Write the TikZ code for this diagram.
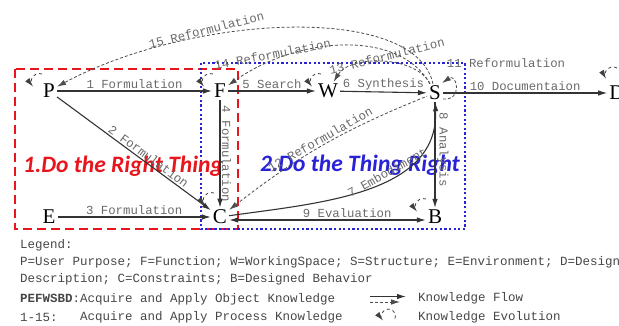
\documentclass[tikz,border=0pt]{standalone}
\usepackage{fontspec}
\setmainfont{Liberation Serif}
\newfontfamily\labelfont{Liberation Mono}
\newfontfamily\headfont{Carlito}
\usetikzlibrary{arrows.meta,positioning}
\definecolor{dored}{RGB}{232,22,28}
\definecolor{doblue}{RGB}{40,36,214}
\definecolor{lblgray}{RGB}{105,105,105}
\definecolor{leggray}{RGB}{70,70,70}

\begin{document}
\begin{tikzpicture}[>={Latex[length=9pt,width=5.5pt]}, x=1pt, y=1pt, on grid,
  obj/.style={font=\fontsize{21}{21}\selectfont, inner sep=2pt},
  lbl/.style={font=\labelfont\fontsize{12.3}{13}\selectfont, text=lblgray, inner sep=1.5pt},
  head/.style={font=\headfont\bfseries\itshape\fontsize{23.5}{24}\selectfont},
  flow/.style={->, draw=black!80, line width=1.1pt},
  reform/.style={->, draw=black!70, densely dashed, line width=0.8pt},
  evo/.style={->, draw=black!75, dashed, line width=0.8pt},
  legtext/.style={font=\labelfont\fontsize{12.5}{13}\selectfont, text=leggray, anchor=west, inner sep=0pt}]
\useasboundingbox (0,0) rectangle (619,-326);
\clip (0,0) rectangle (619,-326);

% the two regions
\draw[dored, line width=2.4pt, dash pattern=on 9pt off 5pt] (15,-69) rectangle (238,-229);
\draw[doblue, line width=2.4pt, dash pattern=on 2.2pt off 2.4pt] (201,-63) rectangle (465,-229);
\node[head, text=dored] (right1) at (123,-166) {1.Do the Right Thing};
\node[head, text=doblue] (right2) at (360,-165) {2.Do the Thing Right};

% objects
\node[obj] (P) at (49,-91) {P};
\node[obj, right=171pt of P] (F) {F};
\node[obj, right=108pt of F] (W) {W};
\node[obj, right=107pt of W, yshift=-2pt] (S) {S};
\node[obj, right=182pt of S] (D) {D};
\node[obj, below=126pt of P] (E) {E};
\node[obj, below=126pt of F] (C) {C};
\node[obj, below=124pt of S] (B) {B};

% process knowledge
\draw[flow] (P) -- node[lbl, above]{1 Formulation} (F);
\draw[flow] (P) -- node[lbl, sloped, above, pos=0.57]{2 Formulation} (C);
\draw[flow] (E) -- node[lbl, above]{3 Formulation} (C);
\draw[flow] (F) -- node[lbl, rotate=-90, anchor=south]{4 Formulation} (C);
\draw[flow] (F) -- node[lbl, above]{5 Search} (W);
\draw[flow] (W) -- node[lbl, above]{6 Synthesis} (S);
\draw[flow] (C) to[out=8, in=-88] node[lbl, sloped, above, pos=0.6]{7 Embodiment} (S);
\draw[flow] (S) -- node[lbl, rotate=-90, anchor=south, pos=0.45]{8 Analysis} (B);
\draw[flow, <->] ([yshift=-3pt]C.east) -- node[lbl, above, pos=0.6]{9 Evaluation} ([yshift=-3pt]B.west);
\draw[flow] (S) -- node[lbl, above]{10 Documentaion} (D);

% reformulations
\draw[reform] ([shift={(8,-6)}]S.center) .. controls +(20,-2) and +(15,10) .. ([shift={(7,10)}]S.center);
\node[lbl] (l11) at (506,-63) {11 Reformulation};
\draw[reform, <-] (C) to[bend left=8] node[lbl, sloped, above]{12 Reformulation} (S);
\draw[reform] (S) .. controls (415,-55) and (350,-55) .. node[lbl, pos=0.45, rotate=14, anchor=south]{13 Reformulation} (W);
\draw[reform] (S) .. controls (400,-30) and (300,-35) .. node[lbl, pos=0.8, rotate=11, anchor=south]{14 Reformulation} (F);
\draw[reform] (S) .. controls (415,-2) and (190,-15) .. node[lbl, pos=0.67, rotate=14, anchor=south]{15 Reformulation} (P);

% object evolution
\draw[evo] ([shift={(-7,17)}]P.center) arc[start angle=70, end angle=220, radius=8];
\draw[evo] ([shift={(-7,17)}]F.center) arc[start angle=70, end angle=220, radius=8];
\draw[evo] ([shift={(-7,17)}]W.center) arc[start angle=70, end angle=220, radius=8];
\draw[evo] ([shift={(-6,24)}]C.center) arc[start angle=70, end angle=220, radius=8];
\draw[evo] ([shift={(-9,18)}]B.center) arc[start angle=70, end angle=220, radius=8];
\draw[evo] ([shift={(0,25)}]D.center) arc[start angle=60, end angle=210, radius=8];

% legend
\node[legtext] (leg1) at (20,-245) {Legend:};
\node[legtext] (leg2) at (20,-262) {P=User Purpose; F=Function; W=WorkingSpace; S=Structure; E=Environment; D=Design};
\node[legtext] (leg3) at (20,-279) {Description; C=Constraints; B=Designed Behavior};
\node[legtext] (leg4) at (20,-299) {\textbf{PEFWSBD}:Acquire and Apply Object Knowledge};
\node[legtext] (leg5) at (20,-317) {1-15:};
\node[legtext] (leg6) at (80,-317) {Acquire and Apply Process Knowledge};
\node[legtext] (lflow) at (418,-298) {Knowledge Flow};
\node[legtext] (levo) at (418,-317) {Knowledge Evolution};
\draw[flow] ([xshift=-48pt,yshift=1.5pt]lflow.west) -- ([xshift=-12pt,yshift=1.5pt]lflow.west);
\draw[reform] ([xshift=-48pt,yshift=-4pt]lflow.west) -- ([xshift=-18pt,yshift=-4pt]lflow.west);
\draw[evo] ([shift={(-23,-1.5)}]levo.west) arc[start angle=-20, end angle=220, radius=7];
\end{tikzpicture}
\end{document}
